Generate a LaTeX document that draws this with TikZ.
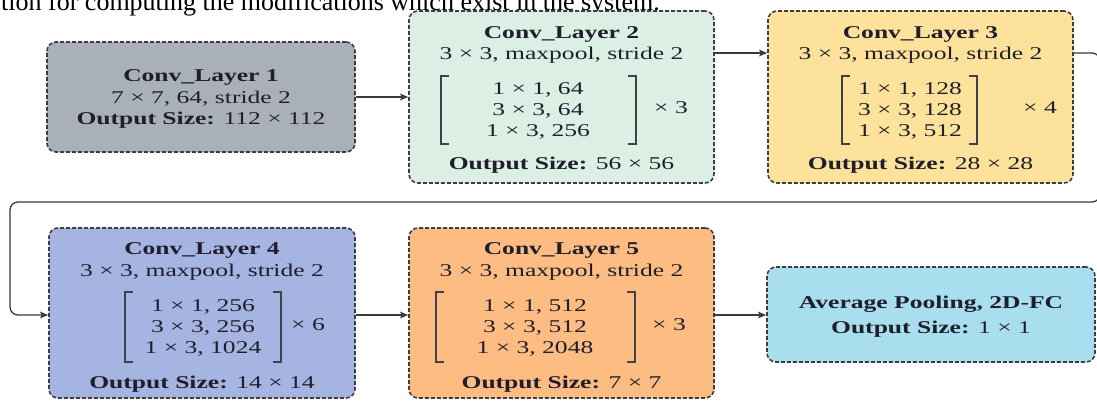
\documentclass[tikz,border=0pt]{standalone}
\usepackage{fontspec}
\setmainfont{Liberation Serif}[FakeStretch=1.42]
\newfontfamily\plainserif{Liberation Serif}
\usetikzlibrary{arrows.meta}
\definecolor{c1}{HTML}{AAB0BA}
\definecolor{c2}{HTML}{DCEFE5}
\definecolor{c3}{HTML}{FDE29C}
\definecolor{c4}{HTML}{A5B4E0}
\definecolor{c5}{HTML}{FDBC82}
\definecolor{c6}{HTML}{A9DEEE}
\definecolor{edgec}{HTML}{3E3E3E}
\definecolor{ink}{HTML}{1E1E2C}
\definecolor{wire}{HTML}{3A3A3A}
\newcommand\drawbrk[4]{%
  \draw[brk] (#1+8,#3) -- (#1,#3) -- (#1,#4) -- (#1+8,#4);
  \draw[brk] (#2-8,#3) -- (#2,#3) -- (#2,#4) -- (#2-8,#4);}
\tikzset{
  layerbox/.style={draw=edgec, line width=1.6pt, dash pattern=on 4pt off 2pt, rounded corners=9pt, inner sep=0pt},
  txt/.style={inner sep=0pt, text height=12pt, text depth=0pt, text=ink, font=\fontsize{18}{21}\selectfont},
  boldtxt/.style={txt, font=\fontsize{18}{21}\selectfont\bfseries},
  brk/.style={draw=ink!85, line width=1.3pt},
  conn/.style={draw=wire, line width=1.3pt, -{Stealth[length=8pt,width=6.5pt,inset=1.5pt]}}
}
\begin{document}
\begin{tikzpicture}[x=1pt,y=-1pt]
\useasboundingbox (0,0) rectangle (1097,400);
\clip (0,0) rectangle (1097,400);
\fill[white] (0,0) rectangle (1097,400);
\node[anchor=base west, inner sep=0pt, font=\plainserif\fontsize{26}{30}\selectfont, text=black] (hdr) at (1,10) {tion for computing the modifications which exist in the system.};
% boxes
\node[layerbox, fill=c1, minimum width=308pt, minimum height=110pt] (L1) at (201,97) {};
\node[layerbox, fill=c2, minimum width=305pt, minimum height=172pt] (L2) at (561.5,97) {};
\node[layerbox, fill=c3, minimum width=305pt, minimum height=172pt] (L3) at (920.5,97) {};
\node[layerbox, fill=c4, minimum width=306pt, minimum height=170pt] (L4) at (202,313) {};
\node[layerbox, fill=c5, minimum width=305pt, minimum height=170pt] (L5) at (561.5,313) {};
\node[layerbox, fill=c6, minimum width=328pt, minimum height=95pt] (L6) at (931,314.5) {};
% layer 1
\node[boldtxt] (t1) at (201,75) {Conv\_Layer 1};
\node[txt] (s1) at (201,97) {7 × 7, 64, stride 2};
\node[txt] (o1) at (201,118) {\textbf{Output Size:} 112 × 112};
% layer 2
\node[boldtxt] (t2) at (561.5,32) {Conv\_Layer 2};
\node[txt] (s2) at (561.5,53) {3 × 3, maxpool, stride 2};
\node[txt] (r2a) at (538,88) {1 × 1, 64};
\node[txt] (r2b) at (538,109) {3 × 3, 64};
\node[txt] (r2c) at (538,130) {1 × 3, 256};
\node[txt] (m2) at (671,107) {× 3};
\node[txt] (o2) at (561.5,163) {\textbf{Output Size:} 56 × 56};
\drawbrk{441}{636}{76}{144}
% layer 3
\node[boldtxt] (t3) at (920.5,32) {Conv\_Layer 3};
\node[txt] (s3) at (920.5,53) {3 × 3, maxpool, stride 2};
\node[txt] (r3a) at (910,88) {1 × 1, 128};
\node[txt] (r3b) at (910,109) {3 × 3, 128};
\node[txt] (r3c) at (910,130) {1 × 3, 512};
\node[txt] (m3) at (1040,107) {× 4};
\node[txt] (o3) at (920.5,163) {\textbf{Output Size:} 28 × 28};
\drawbrk{842}{977}{76}{144}
% layer 4
\node[boldtxt] (t4) at (202,248) {Conv\_Layer 4};
\node[txt] (s4) at (202,270) {3 × 3, maxpool, stride 2};
\node[txt] (r4a) at (203,305) {1 × 1, 256};
\node[txt] (r4b) at (203,326) {3 × 3, 256};
\node[txt] (r4c) at (203,347) {1 × 3, 1024};
\node[txt] (m4) at (308,324) {× 6};
\node[txt] (o4) at (202,382) {\textbf{Output Size:} 14 × 14};
\drawbrk{125}{281}{292}{362}
% layer 5
\node[boldtxt] (t5) at (561.5,248) {Conv\_Layer 5};
\node[txt] (s5) at (561.5,270) {3 × 3, maxpool, stride 2};
\node[txt] (r5a) at (535,305) {1 × 1, 512};
\node[txt] (r5b) at (535,326) {3 × 3, 512};
\node[txt] (r5c) at (535,347) {1 × 3, 2048};
\node[txt] (m5) at (669,324) {× 3};
\node[txt] (o5) at (561.5,382) {\textbf{Output Size:} 7 × 7};
\drawbrk{436}{635}{292}{362}
% layer 6
\node[boldtxt] (t6) at (931,302) {Average Pooling, 2D-FC};
\node[boldtxt] (o6) at (931,327) {Output Size: \mdseries 1 × 1};
% connectors
\coordinate (ya) at (0,53);
\coordinate (yb) at (0,315);
\coordinate (rturn) at (1100,202);
\coordinate (lturn) at (10,202);
\draw[conn] (L1.east) -- (L1.east -| L2.west);
\draw[conn] (L2.east |- ya) -- (L3.west |- ya);
\draw[conn, rounded corners=8pt] (L3.east |- ya) -| (rturn) -| (lturn |- yb) -- (L4.west |- yb);
\draw[conn] (L4.east |- yb) -- (L5.west |- yb);
\draw[conn] (L5.east |- yb) -- (L6.west |- yb);
\end{tikzpicture}
\end{document}
